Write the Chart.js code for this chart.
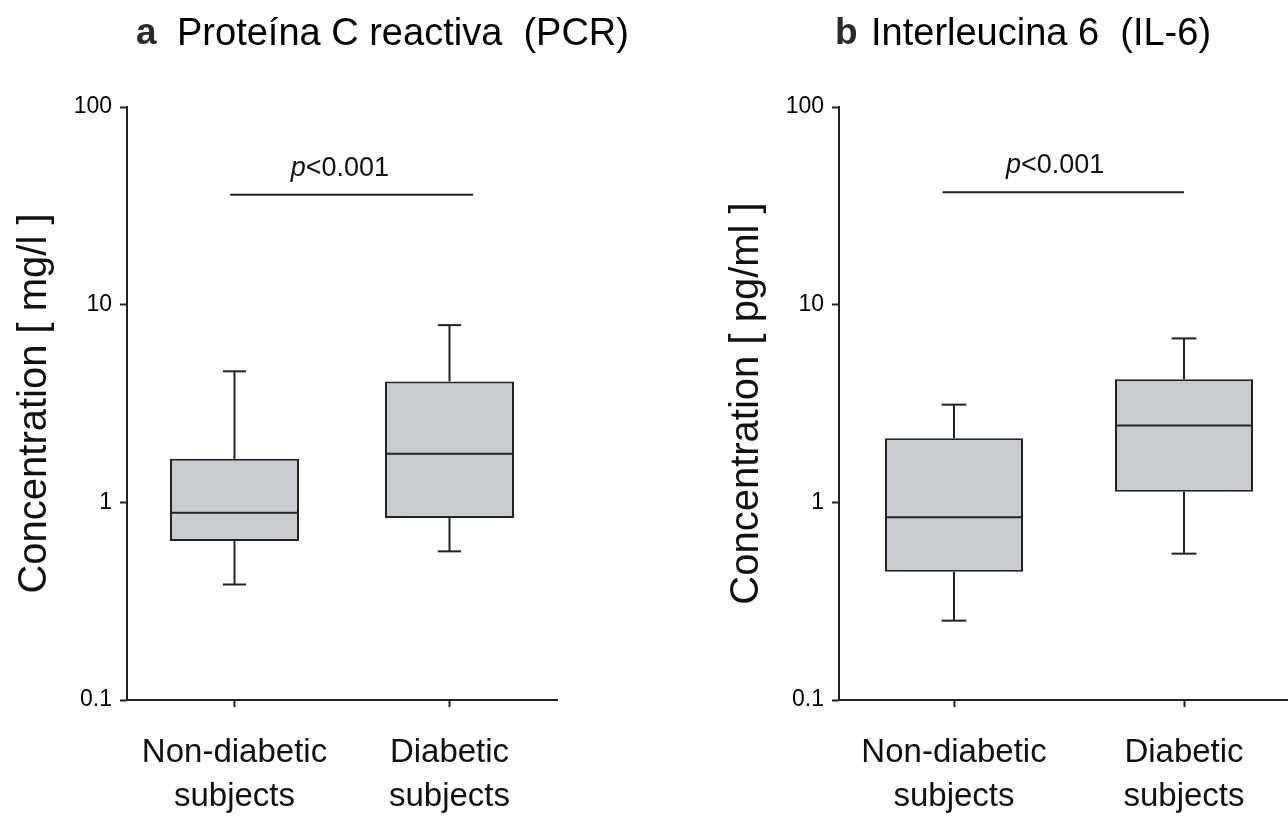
<!DOCTYPE html>
<html>
<head>
<meta charset="utf-8">
<title>Proteína C reactiva / Interleucina 6</title>
<script src="https://cdn.jsdelivr.net/npm/chart.js@4.4.1/dist/chart.umd.min.js"></script>
<style>
  html, body { margin: 0; padding: 0; background: #fff; overflow: hidden; }
  #page { position: relative; width: 1288px; height: 818px; overflow: hidden; background: #fff; }
  canvas { position: absolute; top: 0; }
  .tag, .name { position: absolute; white-space: pre; line-height: 1;
                font-family: "Liberation Sans", "DejaVu Sans", Arial, sans-serif; }
  .tag { font-size: 37px; font-weight: 700; color: #2a2a2a; }
  .name { font-size: 38px; font-weight: 400; color: #000; }
</style>
</head>
<body>
<div id="page">
  <canvas id="pcr" width="660" height="818" style="left:0px"></canvas>
  <canvas id="il6" width="600" height="818" style="left:712px"></canvas>
  <span class="tag" style="left:136px;top:13px">a</span><span class="name" style="left:177px;top:13px">Proteína C reactiva  (PCR)</span>
  <span class="tag" style="left:835px;top:13px">b</span><span class="name" style="left:871px;top:13px">Interleucina 6  (IL-6)</span>
</div>
<script>
// Groups on the x axis (two-line labels)
const groups = [['Non-diabetic', 'subjects'], ['Diabetic', 'subjects']];
// Decade ticks of the log axis
const yTicks = [0.1, 1, 10, 100];

// Proteína C reactiva, mg/l : whisker ends, quartiles and medians
const pcrMin    = [0.384, 0.565];
const pcrQ1     = [0.637, 0.833];
const pcrMedian = [0.887, 1.76];
const pcrQ3     = [1.66, 4.09];
const pcrMax    = [4.60, 7.88];
const pcrSigLevel = 36;

// Interleucina 6, pg/ml
const il6Min    = [0.252, 0.55];
const il6Q1     = [0.446, 1.13];
const il6Median = [0.84, 2.45];
const il6Q3     = [2.11, 4.19];
const il6Max    = [3.12, 6.75];
const il6SigLevel = 37;

const sigItalic = 'p';
const sigRest = '<0.001';

const FONT = '"Liberation Sans", Arial, sans-serif';
const INK = '#222';

// Whiskers, medians and the significance bracket, positioned through the chart scales
const boxExtras = {
  id: 'boxExtras',
  afterDatasetsDraw(chart, args, o) {
    const { ctx } = chart;
    const xs = chart.scales.x, ys = chart.scales.y;
    const meta = chart.getDatasetMeta(0);
    const seg = (x1, y1, x2, y2) => { ctx.beginPath(); ctx.moveTo(x1, y1); ctx.lineTo(x2, y2); ctx.stroke(); };
    ctx.save();
    ctx.strokeStyle = INK;
    ctx.lineWidth = 2;
    meta.data.forEach((bar, i) => {
      const half = bar.width / 2;
      const cap = bar.width * 0.09;
      const yMin = ys.getPixelForValue(o.min[i]);
      const yQ1 = ys.getPixelForValue(o.q1[i]);
      const yMed = ys.getPixelForValue(o.median[i]);
      const yQ3 = ys.getPixelForValue(o.q3[i]);
      const yMax = ys.getPixelForValue(o.max[i]);
      seg(bar.x - half + 1, yMed, bar.x + half - 1, yMed);
      seg(bar.x, yQ3, bar.x, yMax);
      seg(bar.x - cap, yMax, bar.x + cap, yMax);
      seg(bar.x, yQ1, bar.x, yMin);
      seg(bar.x - cap, yMin, bar.x + cap, yMin);
    });
    // significance bracket
    const yb = ys.getPixelForValue(o.sigLevel);
    seg(xs.getPixelForValue(o.sigFrom), yb, xs.getPixelForValue(o.sigTo), yb);
    const fontSize = 27;
    ctx.fillStyle = '#111';
    ctx.textBaseline = 'alphabetic';
    ctx.font = `italic ${fontSize}px ${FONT}`;
    const wP = ctx.measureText(sigItalic).width;
    ctx.font = `${fontSize}px ${FONT}`;
    const wR = ctx.measureText(sigRest).width;
    const cx = xs.getPixelForValue(o.sigText);
    const x0 = cx - (wP + wR) / 2;
    const ty = yb - 19;
    ctx.font = `italic ${fontSize}px ${FONT}`;
    ctx.fillText(sigItalic, x0, ty);
    ctx.font = `${fontSize}px ${FONT}`;
    ctx.fillText(sigRest, x0 + wP, ty);
    ctx.restore();
  }
};

function makePanel(id, unitTitle, s, rightPad, bracket) {
  const q1 = s.q1, q3 = s.q3;
  return new Chart(document.getElementById(id), {
    type: 'bar',
    data: {
      labels: groups,
      datasets: [{
        data: groups.map((_, i) => [q1[i], q3[i]]),
        backgroundColor: '#cbcccf',
        borderColor: INK,
        borderWidth: 2,
        borderSkipped: false,
        barPercentage: 0.6,
        categoryPercentage: 1
      }]
    },
    options: {
      responsive: false,
      animation: false,
      events: [],
      layout: { padding: { left: 0, top: 107, right: rightPad, bottom: 0 } },
      plugins: {
        legend: { display: false },
        tooltip: { enabled: false },
        boxExtras: Object.assign({}, s, bracket)
      },
      scales: {
        x: {
          type: 'category',
          offset: true,
          grid: { display: true, offset: false, drawOnChartArea: false, drawTicks: true, tickLength: 7, tickWidth: 2, color: INK },
          border: { display: true, color: INK, width: 2 },
          ticks: { font: { family: FONT, size: 33, lineHeight: 1.36 }, color: '#111', padding: 23, maxRotation: 0, autoSkip: false },
          afterFit: sc => { sc.height = 118; }
        },
        y: {
          type: 'logarithmic',
          min: 0.1,
          max: 100,
          afterBuildTicks: sc => { sc.ticks = yTicks.map(v => ({ value: v })); },
          grid: { display: true, drawOnChartArea: false, drawTicks: true, tickLength: 7, tickWidth: 2, color: INK },
          border: { display: true, color: INK, width: 2 },
          ticks: { callback: v => String(v), font: { family: FONT, size: 23, weight: 'normal' }, color: '#000', padding: 8 },
          title: { display: true, text: unitTitle, font: { family: FONT, size: 40 }, color: '#111', padding: { top: 11, bottom: 0 } },
          afterFit: sc => { sc.width = 127; }
        }
      }
    },
    plugins: [boxExtras]
  });
}

makePanel('pcr', 'Concentration [ mg/l ]',
  { min: pcrMin, q1: pcrQ1, median: pcrMedian, q3: pcrQ3, max: pcrMax, sigLevel: pcrSigLevel },
  103, { sigFrom: -0.02, sigTo: 1.11, sigText: 0.49 });

makePanel('il6', 'Concentration [ pg/ml ]',
  { min: il6Min, q1: il6Q1, median: il6Median, q3: il6Q3, max: il6Max, sigLevel: il6SigLevel },
  13, { sigFrom: -0.05, sigTo: 1.0, sigText: 0.44 });
</script>
</body>
</html>
